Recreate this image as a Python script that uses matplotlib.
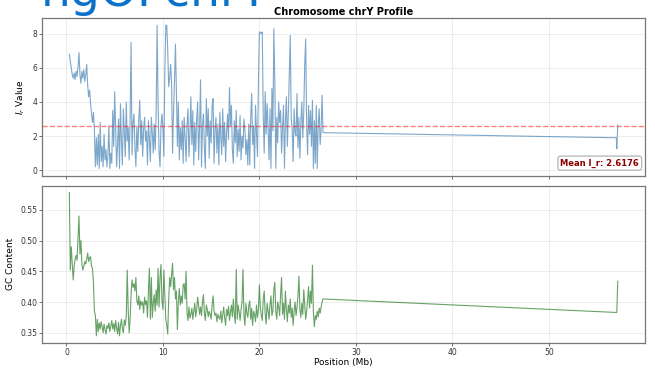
import numpy as np
import matplotlib
matplotlib.use("Agg")
import matplotlib.pyplot as plt

# ---- data -------------------------------------------------------------
bin_start_mb = 0.3
bin_step_mb = 0.1

# I_r values per 0.1 Mb bin, 0.3 - 26.6 Mb
ir_values = [
    6.8, 6.4, 6.0, 5.6, 5.4, 5.7, 5.3,
    5.8, 5.5, 6.1, 6.9, 5.6, 5.1, 5.8, 5.4, 5.9, 5.2,
    5.6, 6.2, 5.0, 4.3, 4.7, 3.9, 3.3, 2.8, 3.4, 2.3,
    0.2, 1.9, 0.3, 2.1, 0.1, 2.8, 0.5, 1.4, 0.2, 2.1,
    0.6, 1.2, 0.2, 0.9, 2.6, 0.1, 1.0, 0.4, 3.5, 1.4,
    4.6, 2.3, 0.2, 1.5, 3.0, 0.1, 3.9, 1.7, 0.3, 3.6,
    2.2, 0.8, 4.0, 1.7, 2.5, 0.6, 3.1, 7.5, 0.9, 2.8,
    3.3, 1.3, 0.2, 2.6, 1.1, 3.0, 4.1, 1.5, 2.9, 0.8,
    2.4, 3.1, 1.7, 2.3, 0.3, 2.9, 1.8, 0.5, 3.1, 2.2,
    1.0, 2.7, 1.2, 3.4, 8.5, 3.9, 1.1, 0.2, 2.6, 3.3,
    2.4, 0.8, 5.9, 8.5, 8.5, 7.0, 4.9, 5.4, 6.2, 5.1,
    1.0, 3.4, 5.2, 7.4, 4.6, 1.4, 4.0, 0.6, 2.5, 1.2,
    2.9, 0.4, 3.1, 1.9, 0.5, 2.7, 3.6, 0.8, 2.2, 4.3,
    1.5, 3.5, 0.3, 2.8, 1.1, 3.0, 4.0, 0.6, 2.5, 5.3,
    0.2, 2.6, 3.3, 1.2, 0.1, 4.2, 2.0, 3.6, 0.7, 2.9,
    1.6, 3.8, 4.2, 0.4, 2.3, 3.1, 1.0, 2.7, 0.3, 3.4,
    2.0, 0.9, 3.6, 1.4, 2.8, 0.5, 2.2, 3.3, 1.8, 4.85,
    2.6, 3.8, 1.2, 0.4, 2.9, 1.6, 3.5, 0.8, 2.4, 1.1,
    3.2, 0.6, 2.0, 1.3, 3.0, 2.4, 0.9, 1.8, 0.3, 2.7,
    0.3, 3.1, 4.5, 1.5, 2.6, 0.1, 3.8, 2.2, 0.8, 5.1,
    8.1, 8.1, 8.0, 8.1, 3.2, 1.0, 4.6, 2.1, 3.9, 2.5,
    0.6, 3.6, 0.1, 4.8, 2.3, 8.3, 5.2, 0.1, 3.1, 1.6,
    4.0, 2.8, 3.5, 1.0, 2.5, 3.8, 0.1, 2.9, 4.3, 1.4,
    3.3, 5.6, 7.9, 3.0, 2.4, 0.5, 3.6, 2.2, 2.0, 4.5,
    1.3, 3.1, 0.7, 2.8, 4.0, 1.9, 3.4, 6.2, 7.7, 2.6,
    0.9, 3.8, 2.1, 3.5, 1.4, 4.1, 0.1, 2.9, 0.4, 3.8,
    0.1, 2.7, 3.6, 1.5, 2.4, 4.4, 2.2,
]

# GC fraction per 0.1 Mb bin, 0.3 - 26.6 Mb
gc_values = [
    0.578, 0.452, 0.490, 0.462, 0.436, 0.458, 0.470,
    0.476, 0.468, 0.505, 0.540, 0.478, 0.500, 0.462, 0.452, 0.458, 0.466,
    0.462, 0.470, 0.480, 0.466, 0.472, 0.474, 0.458, 0.455, 0.430, 0.385,
    0.378, 0.345, 0.372, 0.352, 0.366, 0.356, 0.368, 0.360, 0.350, 0.364,
    0.355, 0.348, 0.362, 0.357, 0.366, 0.352, 0.361, 0.370, 0.356, 0.365,
    0.352, 0.370, 0.358, 0.348, 0.367, 0.345, 0.362, 0.372, 0.357, 0.350,
    0.371, 0.362, 0.376, 0.452, 0.388, 0.350, 0.372, 0.412, 0.436, 0.424,
    0.430, 0.418, 0.440, 0.402, 0.395, 0.410, 0.388, 0.402, 0.395, 0.400,
    0.382, 0.408, 0.396, 0.402, 0.375, 0.420, 0.455, 0.372, 0.440, 0.375,
    0.398, 0.412, 0.385, 0.420, 0.395, 0.455, 0.392, 0.440, 0.461, 0.402,
    0.388, 0.452, 0.410, 0.372, 0.362, 0.348, 0.405, 0.440, 0.425, 0.445,
    0.463, 0.420, 0.440, 0.405, 0.418, 0.355, 0.400, 0.422, 0.395, 0.410,
    0.398, 0.428, 0.430, 0.405, 0.450, 0.382, 0.370, 0.392, 0.374, 0.380,
    0.390, 0.372, 0.385, 0.398, 0.376, 0.388, 0.408, 0.395, 0.380, 0.392,
    0.378, 0.400, 0.412, 0.382, 0.370, 0.395, 0.388, 0.376, 0.385, 0.380,
    0.372, 0.395, 0.410, 0.385, 0.378, 0.382, 0.368, 0.380, 0.375, 0.372,
    0.385, 0.366, 0.380, 0.392, 0.374, 0.362, 0.388, 0.378, 0.393, 0.370,
    0.382, 0.395, 0.376, 0.405, 0.380, 0.365, 0.453, 0.372, 0.395, 0.384,
    0.370, 0.388, 0.400, 0.453, 0.378, 0.362, 0.398, 0.382, 0.375, 0.394,
    0.402, 0.372, 0.390, 0.362, 0.385, 0.380, 0.368, 0.395, 0.375, 0.388,
    0.428, 0.392, 0.378, 0.370, 0.405, 0.418, 0.382, 0.364, 0.398, 0.386,
    0.372, 0.395, 0.410, 0.378, 0.385, 0.420, 0.432, 0.385, 0.372, 0.400,
    0.392, 0.378, 0.412, 0.440, 0.380, 0.398, 0.372, 0.418, 0.388, 0.368,
    0.395, 0.382, 0.405, 0.375, 0.390, 0.362, 0.385, 0.400, 0.378, 0.392,
    0.410, 0.442, 0.388, 0.375, 0.398, 0.380, 0.420, 0.395, 0.372, 0.385,
    0.405, 0.425, 0.390, 0.418, 0.398, 0.460, 0.382, 0.360, 0.378, 0.372,
    0.385, 0.376, 0.390, 0.382, 0.392, 0.400, 0.405,
]

# bins beyond the heterochromatic gap
tail_positions = [57.0, 57.05, 57.15]
tail_ir = [1.9, 1.25, 2.65]
tail_gc = [0.383, 0.383, 0.434]

mean_ir = 2.6176
chrom = "chrY"

positions = np.round(bin_start_mb + bin_step_mb * np.arange(len(ir_values)), 2)
positions = np.concatenate([positions, tail_positions])
ir = np.array(ir_values + tail_ir)
gc = np.array(gc_values + tail_gc)

# ---- figure -----------------------------------------------------------
plt.rcParams["font.family"] = ["DejaVu Sans"]
fig, (ax1, ax2) = plt.subplots(2, 1, figsize=(6.55, 3.70), dpi=100, sharex=True)
fig.subplots_adjust(left=0.064, right=0.985, top=0.951, bottom=0.073, hspace=0.063)

# banner heading running off the top edge
fig.text(0.062, 0.985, "ngOFchrY", fontsize=34, color="#0a72c8",
         ha="left", va="baseline")

ax1.plot(positions, ir, color="steelblue", lw=0.8, alpha=0.7)
ax1.axhline(mean_ir, color="red", ls="--", lw=1.0, alpha=0.5)
ax1.text(0.99, 0.05, f"Mean I_r: {mean_ir:.4f}", transform=ax1.transAxes,
         ha="right", va="bottom", fontsize=6, fontweight="bold", color="darkred",
         bbox=dict(boxstyle="round,pad=0.3", facecolor="white", edgecolor="#bbbbbb"))
ax1.set_ylabel("$I_r$ Value", fontsize=6.5)
ax1.set_title(f"Chromosome {chrom} Profile", fontsize=7, fontweight="bold", pad=2)

ax2.plot(positions, gc, color="darkgreen", lw=0.8, alpha=0.6)
ax2.set_ylabel("GC Content", fontsize=6.5)
ax2.set_xlabel("Position (Mb)", fontsize=6.5, labelpad=1)

for ax in (ax1, ax2):
    ax.grid(True, color="#cccccc", alpha=0.4, lw=0.6)
    ax.tick_params(labelsize=5.5, length=2, width=0.6, colors="#555555",
                   labelcolor="#333333", pad=1.5)
    for s in ax.spines.values():
        s.set_color("#777777")
        s.set_linewidth(0.9)

ax2.set_xticks([0, 10, 20, 30, 40, 50])
ax1.set_yticks([0, 2, 4, 6, 8])
ax2.set_yticks([0.35, 0.40, 0.45, 0.50, 0.55])

fig.savefig("out.png", dpi=100)
